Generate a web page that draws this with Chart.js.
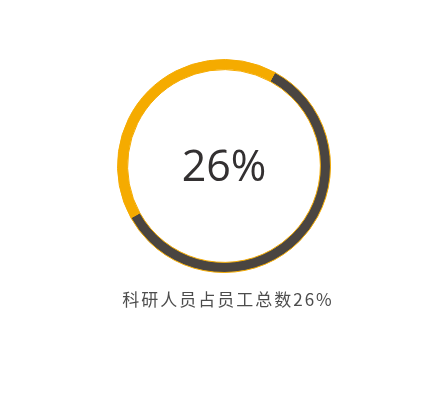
<!DOCTYPE html>
<html>
<head>
<meta charset="utf-8">
<script src="https://cdn.jsdelivr.net/npm/chart.js@4"></script>
<style>
  html, body { margin: 0; padding: 0; background: #ffffff; }
  #wrap { width: 433px; height: 420px; }
</style>
</head>
<body>
<div id="wrap"><canvas id="ring"></canvas></div>
<script>
// segments as drawn (dark part first, starting near 1 o'clock)
const labels = ["其他", "科研人员"];
const shares = [59, 41];
const colors = ["#4a4541", "#f5ab00"];
const centerLabel = "26%";
const caption = "科研人员占员工总数26%";

// draws the big number in the middle and the caption under the ring
const textPlugin = {
    id: "ringText",
    afterDraw(chart) {
        const ctx = chart.ctx;
        const meta = chart.getDatasetMeta(0).data[0];
        const cx = meta.x, cy = meta.y;
        ctx.save();
        ctx.textAlign = "center";
        ctx.textBaseline = "middle";
        ctx.fillStyle = "#333031";
        ctx.font = "400 43px 'Open Sans', 'Noto Sans', sans-serif";
        ctx.fillText(centerLabel, cx, cy + 3);
        ctx.fillStyle = "#4d4d4d";
        ctx.font = "17px 'Noto Sans CJK SC', sans-serif";
        ctx.letterSpacing = "2px";
        ctx.fillText(caption, cx + 4, cy + 134);
        ctx.restore();
    }
};

const ctx = document.getElementById("ring").getContext("2d");
const ring = new Chart(ctx, {
    type: "doughnut",
    data: {
        labels: labels,
        datasets: [{
            data: shares,
            backgroundColor: colors,
            borderColor: "#f5ab00",
            borderWidth: 1
        }]
    },
    options: {
        responsive: true,
        maintainAspectRatio: false,
        animation: false,
        rotation: 28.5,
        cutout: "90.5%",
        layout: { padding: { top: 59, bottom: 147, left: 117, right: 102 } },
        plugins: {
            legend: { display: false },
            tooltip: { enabled: false }
        }
    },
    plugins: [textPlugin]
});
</script>
</body>
</html>
